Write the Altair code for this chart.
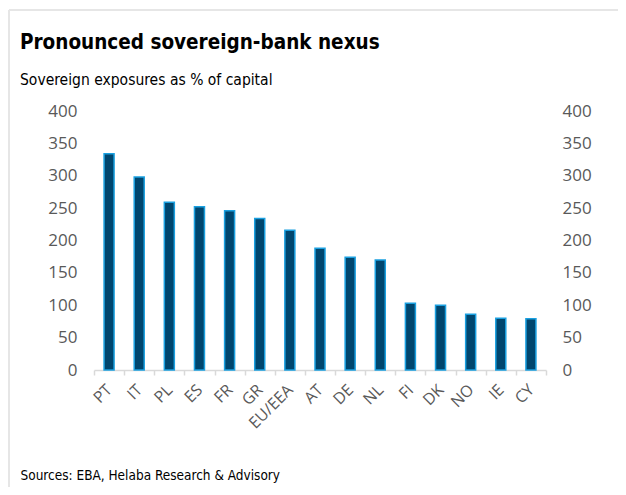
import altair as alt
import pandas as pd

countries = ["PT", "IT", "PL", "ES", "FR", "GR", "EU/EEA", "AT", "DE", "NL",
             "FI", "DK", "NO", "IE", "CY"]
values = [334, 298, 259, 252, 246, 234, 216, 188, 174, 170, 103, 100, 86, 80, 79]
y_ticks = [0, 50, 100, 150, 200, 250, 300, 350, 400]

df = pd.DataFrame({"country": countries, "value": values})

TEXT_FONT = "DejaVu Sans Condensed"
LABEL_FONT = "Open Sans"

x_enc = alt.X(
    "country:N", sort=countries,
    scale=alt.Scale(paddingInner=0, paddingOuter=0),
    axis=alt.Axis(
        title="Sources: EBA, Helaba Research & Advisory",
        labelAngle=-45, labelAlign="right", labelBaseline="middle",
        labelPadding=12, labelFont=LABEL_FONT, labelFontSize=16,
        labelColor="#595959", domainColor="#d9d9d9", domainWidth=1.5,
        tickColor="#d9d9d9", tickSize=5, tickWidth=1.5, tickBand="extent",
        titleX=-74, titleY=105, titleAlign="left", titleBaseline="middle",
        titleFont=TEXT_FONT, titleFontSize=13.5, titleFontWeight="normal",
        titleColor="#000000",
    ),
)

def y_enc(orient, pad):
    return alt.Y(
        "value:Q",
        scale=alt.Scale(domain=[0, 400], nice=False),
        axis=alt.Axis(
            orient=orient, title=None, values=y_ticks, ticks=False,
            domain=False, grid=False, labelPadding=pad,
            labelFont=LABEL_FONT, labelFontSize=17, labelColor="#595959",
        ),
    )

bars = alt.Chart(df).mark_bar(
    size=10, color="#00466e", stroke="#1aa0e0", strokeWidth=1.5
).encode(x=x_enc, y=y_enc("left", 17))

bars_right = alt.Chart(df).mark_bar(size=10, opacity=0).encode(
    x=x_enc, y=y_enc("right", 16)
)

frame_df = pd.DataFrame({"a": [0]})
left_border = alt.Chart(frame_df).mark_rule(color="#e6e6e6", strokeWidth=2).encode(
    x=alt.value(-85), y=alt.value(-101), y2=alt.value(400)
)
top_border = alt.Chart(frame_df).mark_rule(color="#e6e6e6", strokeWidth=2).encode(
    x=alt.value(-85), x2=alt.value(530), y=alt.value(-101)
)

chart = alt.layer(left_border, top_border, bars, bars_right).resolve_axis(
    y="independent"
).properties(
    width=452, height=259,
    padding={"left": 86, "top": 103, "right": 72, "bottom": 117},
    autosize=alt.AutoSizeParams(type="none"),
    title=alt.Title(
        text="Pronounced sovereign-bank nexus",
        subtitle="Sovereign exposures as % of capital",
        anchor="start", frame="group", dx=-74, dy=83,
        font=TEXT_FONT, fontSize=20.5, fontWeight="bold", color="#000000",
        subtitleFont=TEXT_FONT, subtitleFontSize=15.5, subtitleColor="#000000",
        subtitlePadding=19, offset=4,
    ),
).configure_view(stroke=None)

chart.save("out.html", embed_options={"renderer": "svg", "actions": False})
